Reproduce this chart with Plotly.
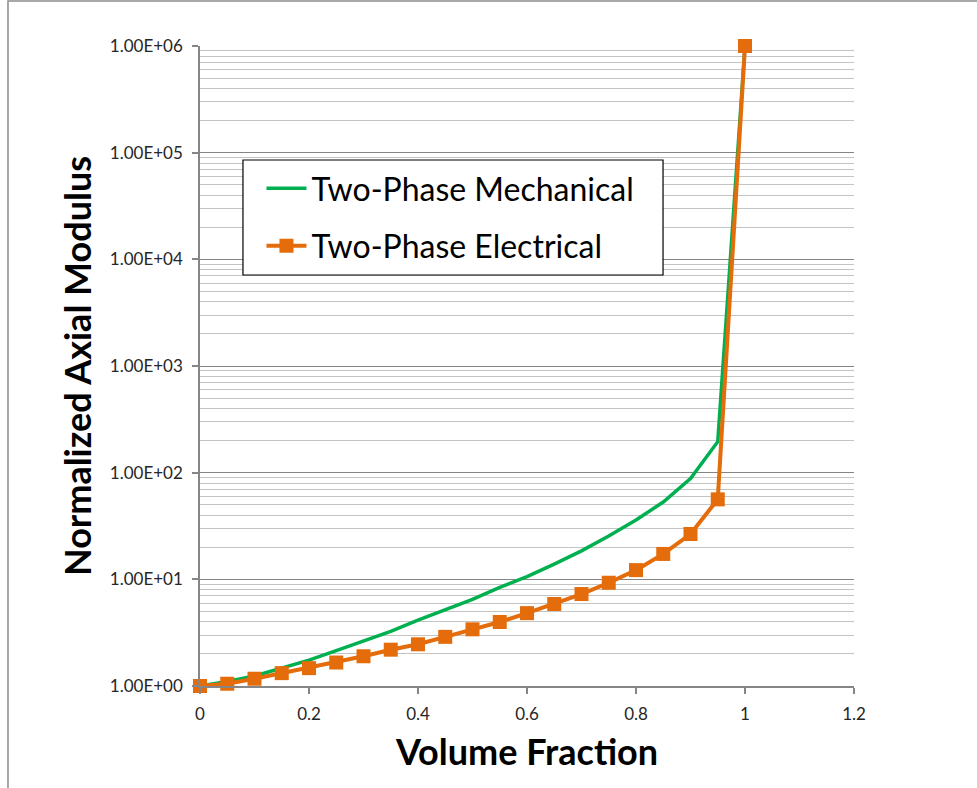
import plotly.graph_objects as go

# Volume fraction of the stiff / conductive phase
volume_fraction = [0.0, 0.05, 0.10, 0.15, 0.20, 0.25, 0.30, 0.35, 0.40, 0.45, 0.50,
                   0.55, 0.60, 0.65, 0.70, 0.75, 0.80, 0.85, 0.90, 0.95, 1.0]

# Normalized axial modulus, two-phase mechanical model
mechanical = [1.0, 1.10, 1.24, 1.46, 1.75, 2.15, 2.65, 3.25, 4.15, 5.2, 6.5,
              8.4, 10.6, 13.9, 18.5, 25.5, 36.0, 53.0, 88.0, 195.0, 1.0e6]

# Normalized axial modulus, two-phase electrical analogue
electrical = [1.0, 1.05, 1.17, 1.32, 1.47, 1.66, 1.90, 2.19, 2.46, 2.89, 3.40,
              3.98, 4.82, 5.87, 7.28, 9.29, 12.2, 17.3, 26.6, 56.2, 1.0e6]

y_tick_values = [1, 10, 100, 1000, 10000, 100000, 1000000]
y_tick_labels = ["1.00E+00", "1.00E+01", "1.00E+02", "1.00E+03",
                 "1.00E+04", "1.00E+05", "1.00E+06"]
x_tick_values = [0, 0.2, 0.4, 0.6, 0.8, 1.0, 1.2]
x_tick_labels = ["0", "0.2", "0.4", "0.6", "0.8", "1", "1.2"]

GREEN = "#00B050"
ORANGE = "#E46C0A"
FONT = "Lato"

fig = go.Figure()

fig.add_trace(go.Scatter(
    x=volume_fraction, y=mechanical, mode="lines",
    name="Two-Phase Mechanical", legendgroup="mech",
    line=dict(color=GREEN, width=3.5),
    cliponaxis=False,
))
fig.add_trace(go.Scatter(
    x=volume_fraction, y=electrical, mode="lines+markers",
    name="Two-Phase Electrical", legendgroup="elec",
    line=dict(color=ORANGE, width=4),
    marker=dict(symbol="square", size=14, color=ORANGE),
    cliponaxis=False,
))

# Outer frame around the whole chart
fig.add_shape(
    type="rect", xref="paper", yref="paper",
    x0=-0.2936, x1=1.3, y0=-0.25, y1=1.0703,
    line=dict(color="#8c8c8c", width=1.5), fillcolor="rgba(0,0,0,0)",
    layer="below",
)

# Legend panel: white box with a thin black border behind the legend entries
fig.add_shape(
    type="rect", xref="paper", yref="paper",
    x0=0.0657, x1=0.7080, y0=0.6422, y1=0.8219,
    line=dict(color="#000000", width=1.2), fillcolor="white",
    layer="above",
)

fig.update_layout(
    width=977, height=788,
    margin=dict(l=200, r=123, t=46, b=102),
    paper_bgcolor="white", plot_bgcolor="white",
    font=dict(family=FONT, color="#262626"),
    showlegend=True,
    legend=dict(
        x=0.094, y=0.8205, xanchor="left", yanchor="top",
        bgcolor="rgba(0,0,0,0)", borderwidth=0,
        font=dict(family=FONT, size=32, color="#000000"),
        traceorder="grouped", tracegroupgap=13,
        itemwidth=40,
    ),
    xaxis=dict(
        range=[0, 1.2], tickmode="array",
        tickvals=x_tick_values, ticktext=x_tick_labels,
        showgrid=False, zeroline=False,
        showline=True, linecolor="#868686", linewidth=1.5,
        ticks="outside", ticklen=6, tickcolor="#868686", tickwidth=1.5,
        ticklabelstandoff=6,
        tickfont=dict(family=FONT, size=17, color="#262626"),
        title=dict(text="<b>Volume Fraction</b>", standoff=17,
                   font=dict(family=FONT, size=36, color="#000000")),
    ),
    yaxis=dict(
        type="log", range=[0, 6], tickmode="array",
        tickvals=y_tick_values, ticktext=y_tick_labels,
        showgrid=True, gridcolor="#858585", gridwidth=1.2,
        zeroline=False,
        showline=True, linecolor="#868686", linewidth=1.5,
        ticks="outside", ticklen=6, tickcolor="#868686", tickwidth=1.5,
        ticklabelstandoff=6,
        tickfont=dict(family=FONT, size=17, color="#262626"),
        minor=dict(dtick="D1", showgrid=True, gridcolor="#c4c4c4",
                   gridwidth=1.2, ticks=""),
        title=dict(text="<b>Normalized Axial Modulus</b>", standoff=7,
                   font=dict(family=FONT, size=36, color="#000000")),
    ),
)

fig.write_html("out.html")
